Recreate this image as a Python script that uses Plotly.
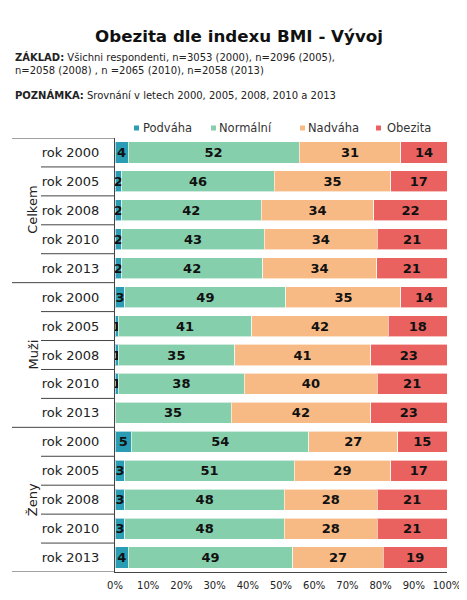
import plotly.graph_objects as go

groups = ["Celkem", "Muži", "Ženy"]
years = ["rok 2000", "rok 2005", "rok 2008", "rok 2010", "rok 2013"]

series_names = ["Podváha", "Normální", "Nadváha", "Obezita"]
podvaha = [4, 2, 2, 2, 2, 3, 1, 1, 1, 0, 5, 3, 3, 3, 4]
normalni = [52, 46, 42, 43, 42, 49, 41, 35, 38, 35, 54, 51, 48, 48, 49]
nadvaha = [31, 35, 34, 34, 34, 35, 42, 41, 40, 42, 27, 29, 28, 28, 27]
obezita = [14, 17, 22, 21, 21, 14, 18, 23, 21, 23, 15, 17, 21, 21, 19]
colors = ["#2a9cb4", "#86cfac", "#f8ba84", "#e9625f"]
x_ticks = [0, 10, 20, 30, 40, 50, 60, 70, 80, 90, 100]
x_tick_labels = [f"{v}%" for v in x_ticks]

row_ids = [f"{g}|{y}" for g in groups for y in years]
row_labels = [y for g in groups for y in years]

fig = go.Figure()
for name, vals, col in zip(series_names, [podvaha, normalni, nadvaha, obezita], colors):
    fig.add_trace(go.Bar(
        name=name, y=row_ids, x=vals, orientation="h",
        marker=dict(color=col, line=dict(width=1, color="rgba(255,255,255,0.6)")),
        text=[str(v) if v > 0 else "" for v in vals],
        textposition="inside", insidetextanchor="middle", constraintext="none",
        textfont=dict(family="DejaVu Sans", size=13, color="#111", weight="bold"),
        hoverinfo="skip", showlegend=False,
    ))

# page body has an 8px margin: figure is placed at (8, 8) in the window
OFF = 8
W, H = 467 - OFF, 600 - OFF
L, R, T, B = 115 - OFF, 20, 138 - OFF, 28
pw, ph = W - L - R, H - T - B

def px_x(p):  # p in window pixels
    return (p - OFF - L) / pw

def px_y(p):
    return (H - B - (p - OFF)) / ph

shapes = []
n = len(row_ids)
for i in range(-1, n):
    yv = i + 0.5
    long_line = i in (-1, 4, 9, 14)
    shapes.append(dict(type="line", xref="paper", yref="y", x0=px_x(12 if long_line else 41), x1=0,
                       y0=yv, y1=yv, line=dict(color="#444", width=1)))

annotations = []
for gi, g in enumerate(groups):
    annotations.append(dict(text=g, textangle=-90, xref="paper", yref="y", x=px_x(23), y=gi * 5 + 2,
                            showarrow=False, font=dict(family="DejaVu Sans", size=13, color="#222")))
annotations.append(dict(
    text="<b>ZÁKLAD:</b> Všichni respondenti, n=3053 (2000), n=2096 (2005),<br>n=2058 (2008) , n =2065 (2010), n=2058 (2013)",
    xref="paper", yref="paper", x=px_x(13), y=px_y(64), xanchor="left", yanchor="middle", align="left",
    showarrow=False, font=dict(family="DejaVu Sans", size=10, color="#222")))
annotations.append(dict(
    text="<b>POZNÁMKA:</b> Srovnání v letech 2000, 2005, 2008, 2010 a 2013",
    xref="paper", yref="paper", x=px_x(13), y=px_y(95), xanchor="left", yanchor="middle", align="left",
    showarrow=False, font=dict(family="DejaVu Sans", size=10, color="#222")))

# legend (drawn as swatches + labels to match the compact original legend)
legend_sq = [134, 211, 300, 376]
legend_tx = [141, 217, 306, 385]
for name, col, sx, tx in zip(series_names, colors, legend_sq, legend_tx):
    shapes.append(dict(type="rect", xref="paper", yref="paper", x0=px_x(sx), x1=px_x(sx + 5),
                       y0=px_y(130.5), y1=px_y(125.5), fillcolor=col, line=dict(width=0)))
    annotations.append(dict(text=name, xref="paper", yref="paper", x=px_x(tx), y=px_y(127.5),
                            xanchor="left", yanchor="middle", showarrow=False,
                            font=dict(family="DejaVu Sans", size=11.5, color="#333")))

fig.update_layout(
    width=W, height=H, barmode="stack", barnorm="percent", bargap=0.27,
    margin=dict(l=L, r=R, t=T, b=B, autoexpand=False),
    paper_bgcolor="white", plot_bgcolor="white",
    title=dict(text="<b>Obezita dle indexu BMI - Vývoj</b>", x=px_x(239), xanchor="center",
               xref="paper", y=1 - (36 - OFF) / H, yanchor="middle",
               font=dict(family="DejaVu Sans", size=16.7, color="#111")),
    showlegend=False,
    xaxis=dict(range=[0, 100], tickvals=x_ticks, ticktext=x_tick_labels, showgrid=False, zeroline=False,
               showline=True, linecolor="#444", linewidth=1, ticks="", ticklabelstandoff=4,
               automargin=False,
               tickfont=dict(family="DejaVu Sans", size=10, color="#222")),
    yaxis=dict(type="category", categoryarray=row_ids, range=[n - 0.5, -0.5],
               tickvals=row_ids, ticktext=row_labels, showgrid=False, zeroline=False,
               showline=True, linecolor="#444", linewidth=1, ticks="", ticklabelstandoff=12,
               automargin=False,
               tickfont=dict(family="DejaVu Sans", size=13, color="#222")),
    shapes=shapes, annotations=annotations,
)

fig.write_html("out.html")
